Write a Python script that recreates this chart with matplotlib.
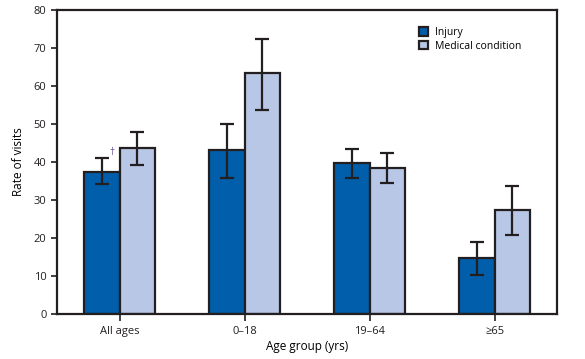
import numpy as np
import matplotlib.pyplot as plt

plt.rcParams['font.family'] = ['Open Sans', 'DejaVu Sans']

groups = ['All ages', '0\u201318', '19\u201364', '\u226565']
injury = [37.5, 43.2, 39.8, 14.8]
injury_lo = [34.3, 35.8, 35.8, 10.4]
injury_hi = [41.0, 50.1, 43.5, 19.0]
medical = [43.6, 63.4, 38.5, 27.3]
medical_lo = [39.2, 53.8, 34.6, 20.8]
medical_hi = [47.9, 72.5, 42.4, 33.6]

edge = '#231F20'
c_inj = '#005EAA'
c_med = '#B8C7E6'

fig = plt.figure(figsize=(5.85, 3.59), dpi=100)
ax = fig.add_axes([0.0974, 0.125, 0.855, 0.847])

x = np.arange(len(groups))
w = 0.285
inj = np.array(injury)
med = np.array(medical)
ax.bar(x - w / 2, inj, w, color=c_inj, edgecolor=edge, linewidth=1.6, label='Injury', zorder=2)
ax.bar(x + w / 2, med, w, color=c_med, edgecolor=edge, linewidth=1.6, label='Medical condition', zorder=2)
ax.errorbar(x - w / 2, inj, yerr=[inj - np.array(injury_lo), np.array(injury_hi) - inj],
            fmt='none', ecolor=edge, elinewidth=1.6, capsize=5, capthick=1.6, zorder=3)
ax.errorbar(x + w / 2, med, yerr=[med - np.array(medical_lo), np.array(medical_hi) - med],
            fmt='none', ecolor=edge, elinewidth=1.6, capsize=5, capthick=1.6, zorder=3)

ax.text(-0.06, 41.0, '\u2020', fontsize=7, color='#5B3F8F', ha='center', va='bottom')

ax.set_xlim(-0.5, 3.5)
ax.set_ylim(0, 80)
ax.set_yticks(range(0, 81, 10))
ax.set_xticks(x)
ax.set_xticklabels(groups)
ax.tick_params(axis='both', labelsize=8, colors=edge, width=1.2, length=4, direction='out')
ax.tick_params(axis='x', length=5)
for s in ax.spines.values():
    s.set_linewidth(1.6)
    s.set_color(edge)

ax.set_xlabel('Age group (yrs)', fontsize=8.5, labelpad=2)
ax.set_ylabel('Rate of visits', fontsize=8.5, labelpad=6)

ax.legend(loc='upper left', bbox_to_anchor=(0.705, 0.975), frameon=False, fontsize=7.5,
          handlelength=0.9, handleheight=0.9, handletextpad=0.6, labelspacing=0.25)

fig.savefig('out.png', dpi=100)
